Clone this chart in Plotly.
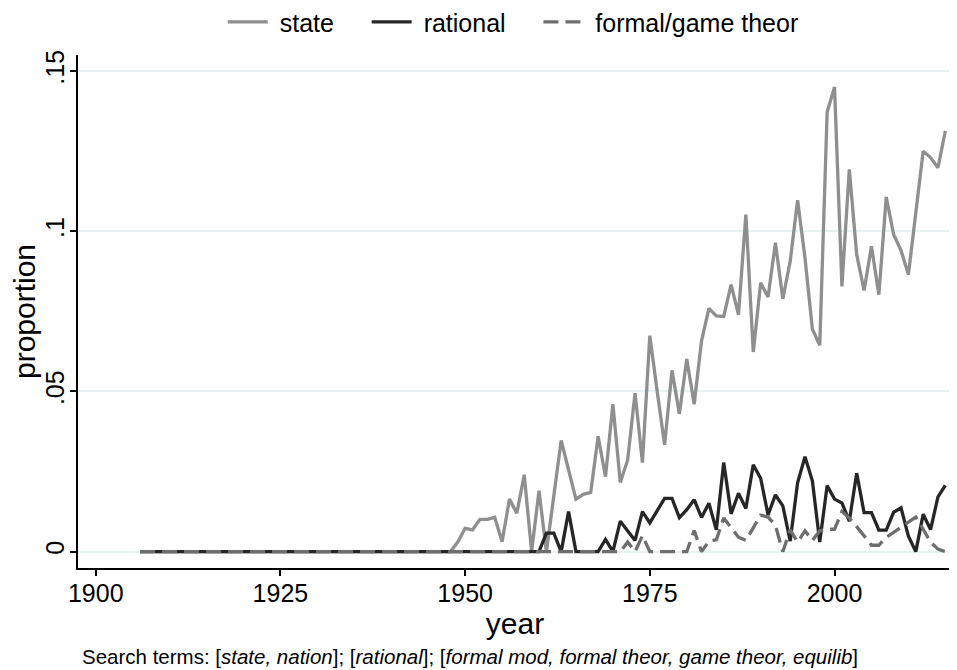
import plotly.graph_objects as go

years = list(range(1906, 2016))

# values for 1948..2015 (state), earlier years are zero
state_tail = [0, 0.003, 0.0073, 0.0068, 0.0101, 0.0101, 0.0107, 0.0031, 0.0164, 0.012,
              0.024, 0, 0.019, 0, 0.017, 0.0347, 0.0255, 0.0164, 0.0179, 0.0185,
              0.036, 0.0234, 0.046, 0.0216, 0.0286, 0.0495, 0.0278, 0.0674, 0.05, 0.0333,
              0.0566, 0.043, 0.0601, 0.046, 0.0658, 0.0759, 0.0736, 0.0734, 0.0833, 0.074,
              0.1052, 0.0623, 0.0839, 0.0795, 0.0964, 0.0789, 0.0906, 0.1097, 0.0917, 0.0695,
              0.0644, 0.1372, 0.145, 0.0828, 0.1193, 0.0927, 0.0815, 0.0953, 0.0802, 0.1107,
              0.099, 0.094, 0.0865, 0.106, 0.125, 0.123, 0.1198, 0.1313]
state = [0] * (1948 - 1906) + state_tail

# values for 1961..2015 (rational)
rational_tail = [0.0058, 0.0058, 0, 0.0125, 0, 0, 0, 0, 0.0038, 0,
                 0.0095, 0.0064, 0.0035, 0.0125, 0.009, 0.0128, 0.0166, 0.0166, 0.0106, 0.0131,
                 0.0162, 0.0107, 0.0151, 0.0068, 0.0278, 0.0118, 0.0182, 0.0135, 0.0271, 0.0229,
                 0.0115, 0.0177, 0.0143, 0.0033, 0.0215, 0.0296, 0.0221, 0.003, 0.0206, 0.0164,
                 0.0152, 0.0095, 0.0245, 0.0122, 0.0122, 0.0067, 0.0067, 0.0123, 0.0137, 0.0048,
                 0, 0.0117, 0.0069, 0.0171, 0.0207]
rational = [0] * (1961 - 1906) + rational_tail

# values for 1972..2015 (formal/game theory)
formal_tail = [0.003, 0, 0.005, 0, 0, 0, 0, 0, 0, 0.0066,
               0, 0.0033, 0.0037, 0.0105, 0.0075, 0.0045, 0.0035, 0.0075, 0.0114, 0.0108,
               0.0082, 0, 0.0068, 0.003, 0.0065, 0.0035, 0.0065, 0.007, 0.007, 0.0125,
               0.0105, 0.0078, 0.0048, 0.002, 0.002, 0.0045, 0.006, 0.0075, 0.009, 0.0108,
               0.007, 0.003, 0.0008, 0]
formal = [0] * (1972 - 1906) + formal_tail

series_names = ["state", "rational", "formal/game theor"]
x_ticks = [1900, 1925, 1950, 1975, 2000]
y_ticks = [0, 0.05, 0.1, 0.15]
y_tick_labels = ["0", ".05", ".1", ".15"]

FONT = "Liberation Sans, Arial, sans-serif"
NB = "\u00a0"


def legend_label(name, last=False):
    return NB + name + ("" if last else NB * 4)


fig = go.Figure()
fig.add_trace(go.Scatter(x=years, y=state, mode="lines", name=legend_label(series_names[0]),
                         line=dict(color="#8f8f8f", width=3.3)))
fig.add_trace(go.Scatter(x=years, y=rational, mode="lines", name=legend_label(series_names[1]),
                         line=dict(color="#262626", width=3.3)))
fig.add_trace(go.Scatter(x=years, y=formal, mode="lines",
                         name=legend_label(series_names[2], last=True),
                         line=dict(color="#6e6e6e", width=3.3, dash="15px,7px")))

fig.update_layout(
    width=957, height=670,
    margin=dict(l=70, r=13, t=47, b=110, autoexpand=False),
    paper_bgcolor="white", plot_bgcolor="white",
    font=dict(family=FONT, size=25, color="black"),
    showlegend=True,
    legend=dict(orientation="h", x=0.498, xanchor="center", xref="paper",
                y=0.979, yanchor="middle", yref="container",
                font=dict(size=25), itemwidth=40, traceorder="normal",
                bgcolor="rgba(0,0,0,0)"),
    xaxis=dict(range=[1897.6, 2015.9], tickmode="array", tickvals=x_ticks,
               showgrid=False, zeroline=False, showline=True, linecolor="black",
               linewidth=1.5, ticks="outside", ticklen=6, tickwidth=1.5, tickcolor="black",
               automargin=False, ticklabelstandoff=-4,
               title=dict(text="year", standoff=0), tickfont=dict(size=25)),
    yaxis=dict(range=[-0.0051, 0.155], tickmode="array", tickvals=y_ticks,
               ticktext=y_tick_labels, tickangle=-90, automargin=False,
               ticklabelstandoff=-4,
               showgrid=True, gridcolor="#e8f1f2", gridwidth=1.5, zeroline=False,
               showline=True, linecolor="black", linewidth=1.5,
               ticks="outside", ticklen=6, tickwidth=1.5, tickcolor="black",
               title=dict(text="proportion", standoff=1), tickfont=dict(size=25)),
)

fig.add_annotation(
    text="Search terms: [<i>state, nation</i>]; [<i>rational</i>]; "
         "[<i>formal mod, formal theor, game theor, equilib</i>]",
    xref="paper", yref="paper", x=0.448, xanchor="center", y=0, yanchor="top",
    yshift=-75, showarrow=False, font=dict(size=20.5, family=FONT))

fig.write_html("out.html")
